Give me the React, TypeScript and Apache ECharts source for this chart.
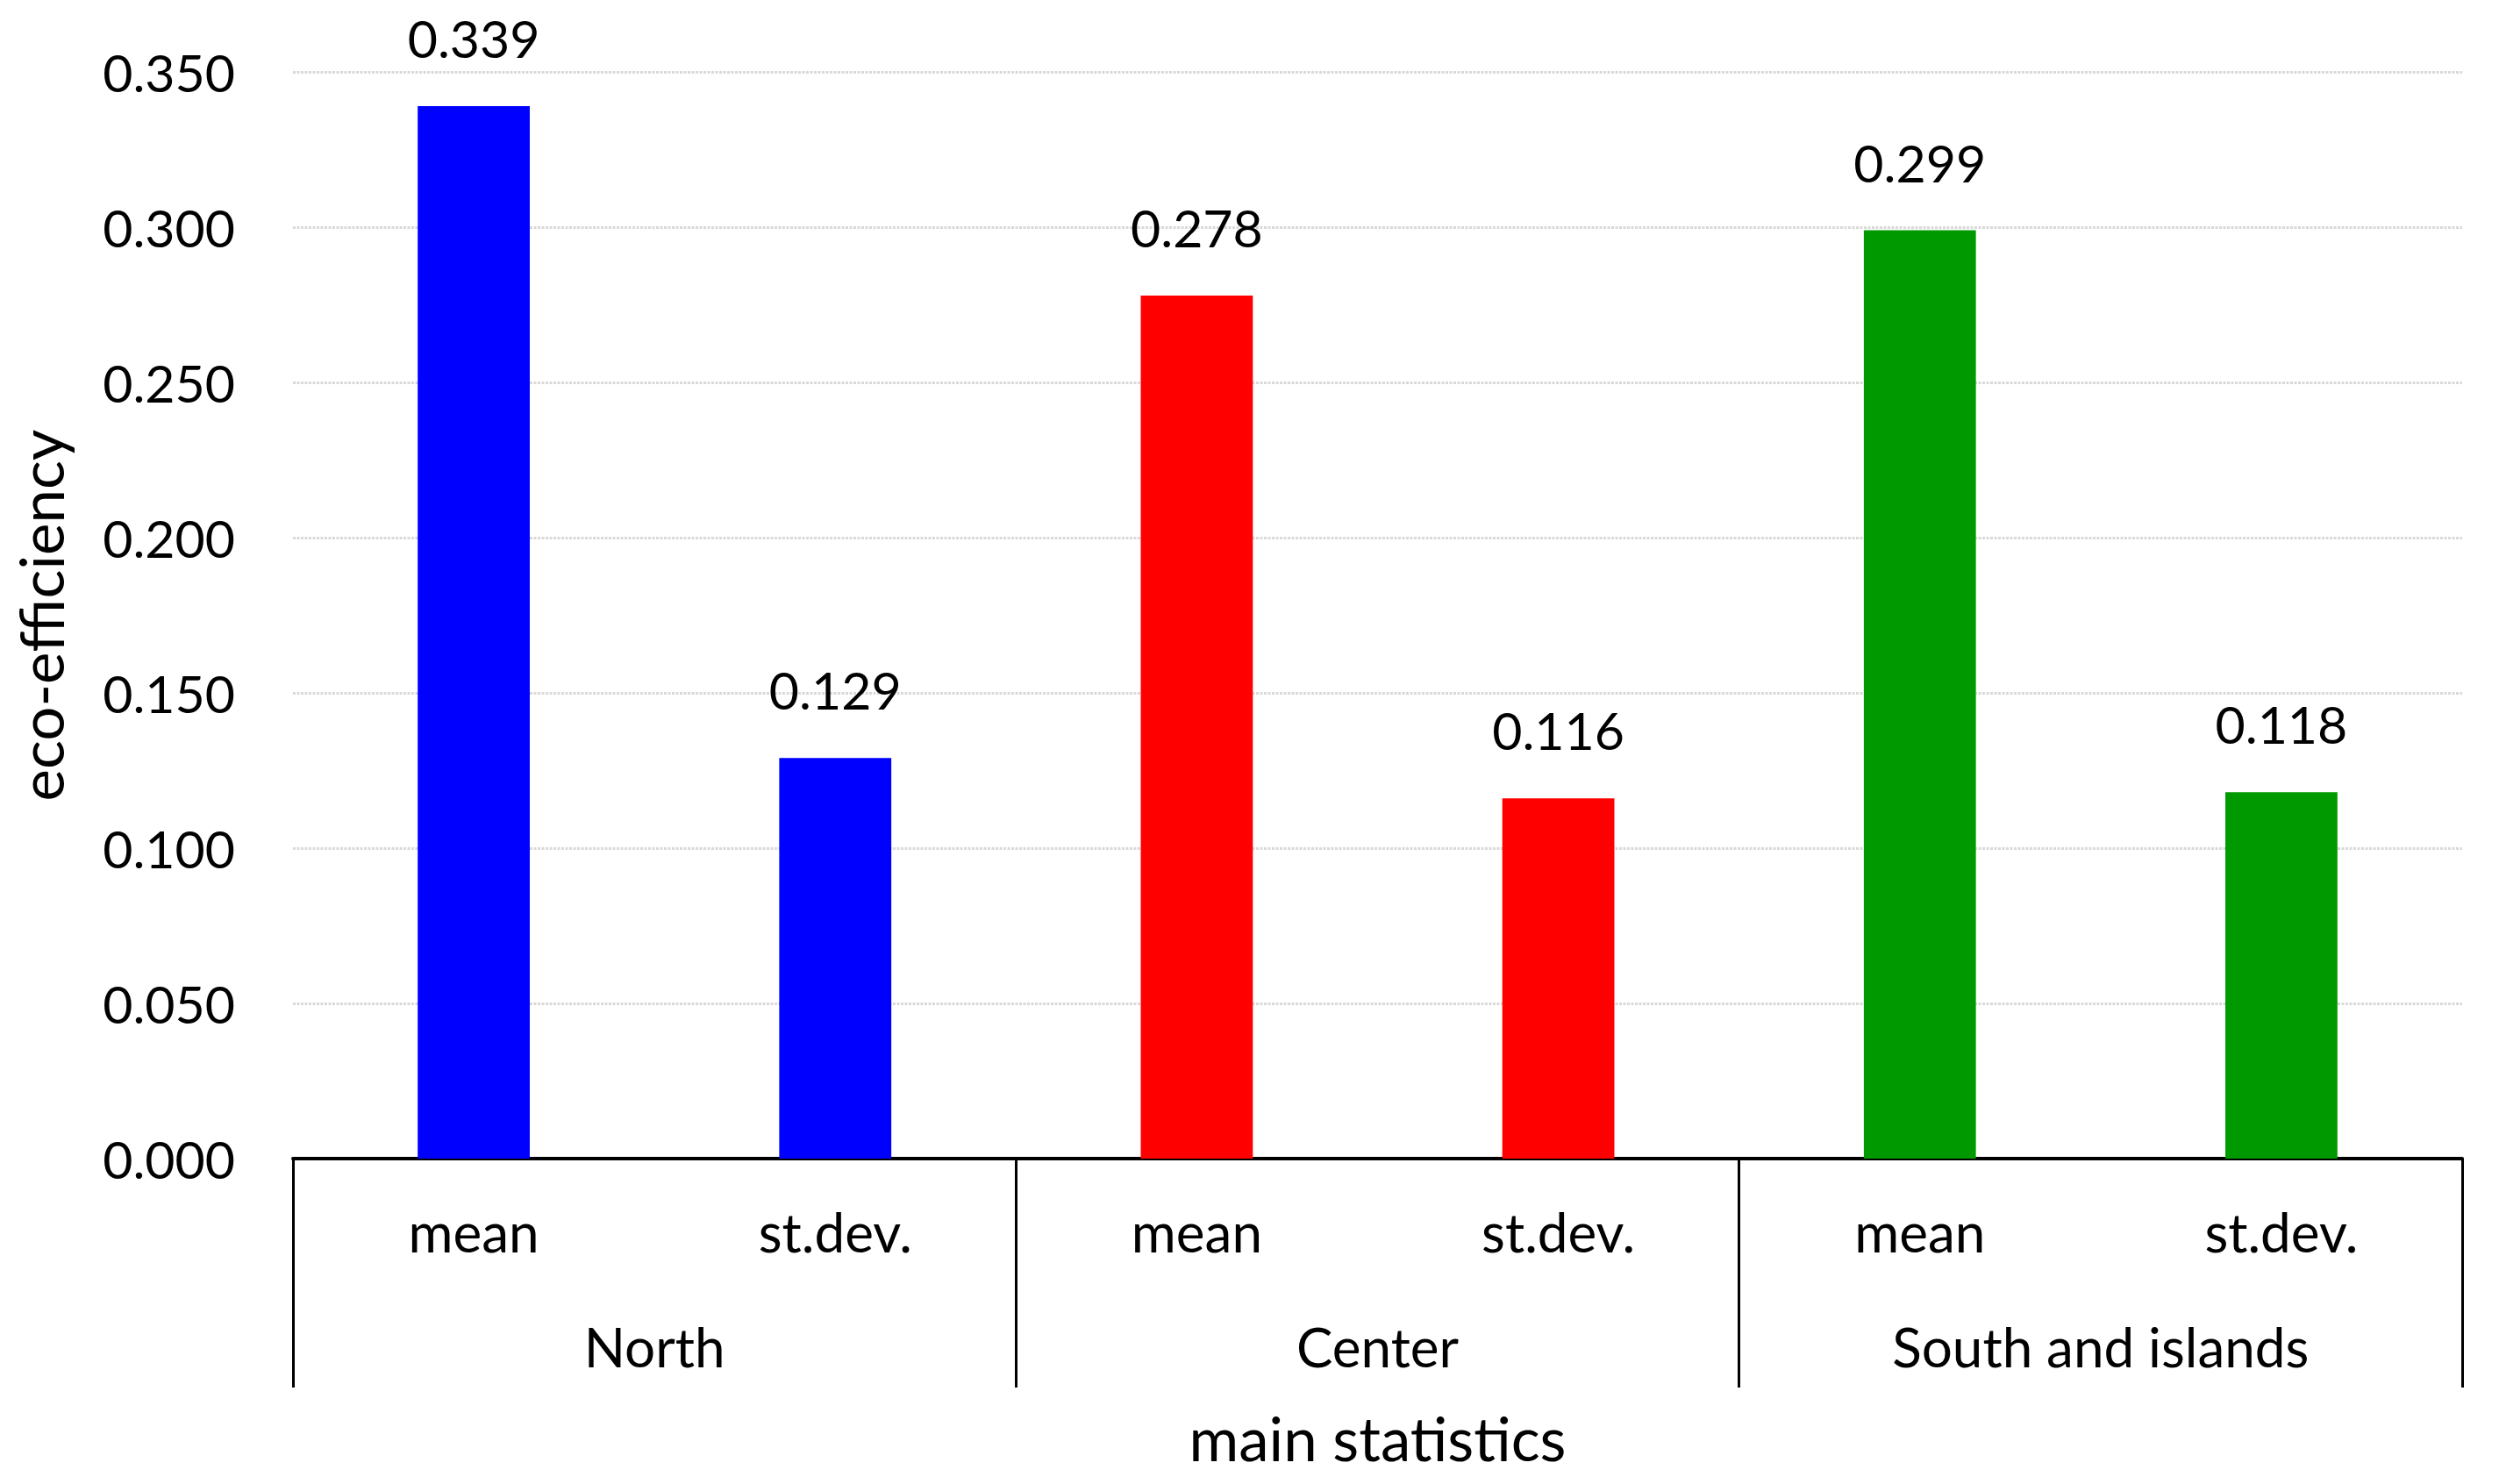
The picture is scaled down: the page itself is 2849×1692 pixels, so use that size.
import React, { useEffect, useRef } from "react";
import * as echarts from "echarts";

const subCategories = ["mean", "st.dev.", "mean", "st.dev.", "mean", "st.dev."];
const groups = ["North", "Center", "South and islands"];
const values = [0.339, 0.129, 0.278, 0.116, 0.299, 0.118];
const barColors = ["#0000ff", "#0000ff", "#ff0000", "#ff0000", "#009900", "#009900"];
const yMin = 0;
const yMax = 0.35;
const yInterval = 0.05;

const FONT = "Lato";

export default function App() {
  const ref = useRef<HTMLDivElement>(null);
  useEffect(() => {
    if (!ref.current) return;
    const chart = echarts.init(ref.current, null, { renderer: "svg" });
    chart.setOption({
      animation: false,
      backgroundColor: "#ffffff",
      textStyle: { fontFamily: FONT, color: "#000" },
      grid: {
        left: 334,
        right: 42,
        top: 82,
        bottom: 371,
        containLabel: false,
        outerBoundsMode: "none",
      },
      xAxis: [
        {
          type: "category",
          data: subCategories,
          position: "bottom",
          axisLine: { show: true, lineStyle: { color: "#000", width: 4 } },
          axisTick: { show: false },
          axisLabel: {
            interval: 0,
            margin: 52,
            fontSize: 62,
            color: "#000",
            fontFamily: FONT,
          },
          splitLine: { show: false },
        },
        {
          type: "category",
          data: groups,
          position: "bottom",
          axisLine: { show: false },
          axisTick: {
            show: true,
            interval: 0,
            length: 261,
            lineStyle: { color: "#000", width: 3 },
          },
          axisLabel: {
            interval: 0,
            margin: 183,
            fontSize: 62,
            color: "#000",
            fontFamily: FONT,
          },
          splitLine: { show: false },
          name: "main statistics",
          nameLocation: "middle",
          nameGap: 284,
          nameMoveOverlap: false,
          nameTextStyle: { fontSize: 69, color: "#000", fontFamily: FONT },
        },
      ],
      yAxis: {
        type: "value",
        min: yMin,
        max: yMax,
        interval: yInterval,
        axisLine: { show: false },
        axisTick: { show: false },
        axisLabel: {
          margin: 66,
          fontSize: 59,
          color: "#000",
          fontFamily: FONT,
          formatter: (v: number) => v.toFixed(3),
        },
        splitLine: {
          show: true,
          lineStyle: { color: "#d9d9d9", width: 3, type: [3, 1.5] },
        },
        name: "eco-efficiency",
        nameLocation: "middle",
        nameRotate: 90,
        nameGap: 253,
        nameMoveOverlap: false,
        nameTextStyle: { fontSize: 69, color: "#000", fontFamily: FONT },
      },
      series: [
        {
          type: "bar",
          xAxisIndex: 0,
          yAxisIndex: 0,
          barWidth: "31%",
          data: values.map((v, i) => ({
            value: v,
            itemStyle: { color: barColors[i] },
          })),
          label: {
            show: true,
            position: "top",
            distance: 48,
            fontSize: 59,
            color: "#000",
            fontFamily: FONT,
            formatter: (p: any) => Number(p.value).toFixed(3),
          },
        },
      ],
    });
    return () => chart.dispose();
  }, []);
  return (
    <div
      ref={ref}
      style={{ position: "fixed", left: 0, top: 0, width: 2849, height: 1692 }}
    />
  );
}
